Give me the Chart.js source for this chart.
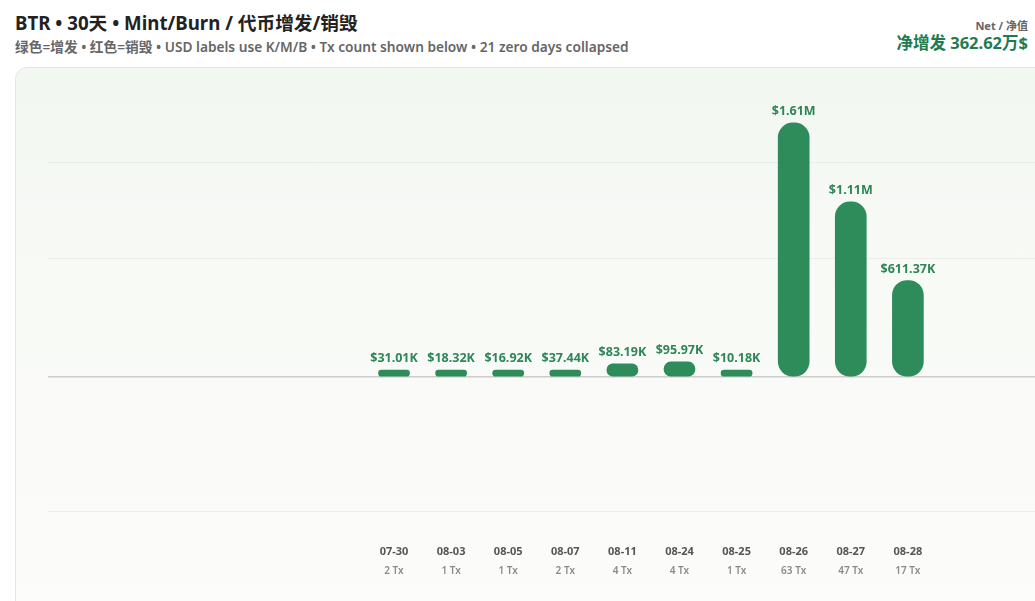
<!DOCTYPE html>
<html>
<head>
<meta charset="utf-8">
<script src="https://cdn.jsdelivr.net/npm/chart.js@4.4.1/dist/chart.umd.min.js"></script>
<style>
  html, body { margin: 0; padding: 0; width: 1035px; height: 601px; overflow: hidden; background: #ffffff;
    font-family: "Noto Sans", "Noto Sans CJK SC", sans-serif; }
  #title { position: absolute; left: 15px; top: 8px; font-size: 18.7px; font-weight: 700; color: #222; white-space: nowrap; }
  #sub { position: absolute; left: 15px; top: 36px; font-size: 13.7px; font-weight: 600; color: #666; white-space: nowrap; }
  #netLbl { position: absolute; right: 7px; top: 17px; font-size: 11px; font-weight: 700; color: #666; white-space: nowrap; }
  #netVal { position: absolute; right: 7px; top: 30px; font-size: 16.5px; font-weight: 700; color: #237a4e; white-space: nowrap; }
  #card { position: absolute; left: 15px; top: 67px; width: 1100px; height: 560px; border: 1px solid #e3e7e3; border-radius: 12px;
    background: linear-gradient(to bottom, #f2f7f1 0%, #f8faf6 40%, #fcfcfb 100%); box-sizing: border-box; overflow: hidden; }
  #c { position: absolute; left: 0; top: 0; }
</style>
</head>
<body>
<div id="title">BTR • 30天 • Mint/Burn / 代币增发/销毁</div>
<div id="sub">绿色=增发 • 红色=销毁 • USD labels use K/M/B • Tx count shown below • 21 zero days collapsed</div>
<div id="netLbl">Net / 净值</div>
<div id="netVal">净增发 362.62万$</div>
<div id="card"><canvas id="c" width="1098" height="533"></canvas></div>
<script>
const dates = ["07-30", "08-03", "08-05", "08-07", "08-11", "08-24", "08-25", "08-26", "08-27", "08-28"];
const mintUsd = [31010, 18320, 16920, 37440, 83190, 95970, 10180, 1610000, 1110000, 611370];
const txCounts = [2, 1, 1, 2, 4, 4, 1, 63, 47, 17];

const GREEN = '#2e8b5a';
const LABEL_GREEN = '#2e8557';

function fmtUsd(v) {
  const a = Math.abs(v);
  if (a >= 1e9) return '$' + (v / 1e9).toFixed(2) + 'B';
  if (a >= 1e6) return '$' + (v / 1e6).toFixed(2) + 'M';
  if (a >= 1e3) return '$' + (v / 1e3).toFixed(2) + 'K';
  return '$' + v.toFixed(2);
}

const valueLabels = {
  id: 'valueLabels',
  afterDatasetsDraw(chart) {
    const ctx = chart.ctx;
    const meta = chart.getDatasetMeta(0);
    ctx.save();
    ctx.font = '700 12.5px "Noto Sans", "Noto Sans CJK SC", sans-serif';
    ctx.fillStyle = LABEL_GREEN;
    ctx.textAlign = 'center';
    ctx.textBaseline = 'bottom';
    meta.data.forEach((bar, i) => {
      ctx.fillText(fmtUsd(mintUsd[i]), bar.x, bar.y - 5);
    });
    ctx.restore();
  }
};

const X_MIN = -6.06, X_MAX = 12.61;
const idxTicks = (scale) => { scale.ticks = dates.map((d, i) => ({ value: i })); };

new Chart(document.getElementById('c'), {
  type: 'bar',
  data: {
    datasets: [{
      data: mintUsd.map((v, i) => ({ x: i, y: v })),
      backgroundColor: GREEN,
      borderRadius: 15,
      borderSkipped: false,
      barThickness: 31,
      minBarLength: 7,
      xAxisID: 'x'
    }]
  },
  options: {
    responsive: false,
    devicePixelRatio: 1,
    animation: false,
    layout: { padding: { left: 32, right: 0, top: 22, bottom: 22 } },
    plugins: { legend: { display: false }, tooltip: { enabled: false } },
    scales: {
      x: {
        type: 'linear', position: 'bottom', min: X_MIN, max: X_MAX, offset: false,
        afterBuildTicks: idxTicks,
        grid: { display: false, drawTicks: false }, border: { display: false },
        ticks: { autoSkip: false, maxRotation: 0, minRotation: 0, padding: 4.4,
          color: '#555', font: { size: 11, weight: '700', family: '"Noto Sans", sans-serif' },
          callback: (v) => dates[v] }
      },
      x2: {
        type: 'linear', position: 'bottom', min: X_MIN, max: X_MAX, offset: false,
        afterBuildTicks: idxTicks,
        grid: { display: false, drawTicks: false }, border: { display: false },
        ticks: { autoSkip: false, maxRotation: 0, minRotation: 0, padding: 2,
          color: '#8a8a8a', font: { size: 10, weight: '600', family: '"Noto Sans", sans-serif' },
          callback: (v) => txCounts[v] + ' Tx' }
      },
      y: {
        min: -1039300, max: 1818800,
        afterBuildTicks: (scale) => { scale.ticks = [-855000, 0, 754000, 1362000].map(v => ({ value: v })); },
        ticks: { display: false },
        border: { display: false },
        grid: {
          drawTicks: false,
          color: (c) => c.tick && c.tick.value === 0 ? '#cccccc' : '#ececec',
          lineWidth: (c) => c.tick && c.tick.value === 0 ? 1.5 : 1
        }
      }
    }
  },
  plugins: [valueLabels]
});
</script>
</body>
</html>
